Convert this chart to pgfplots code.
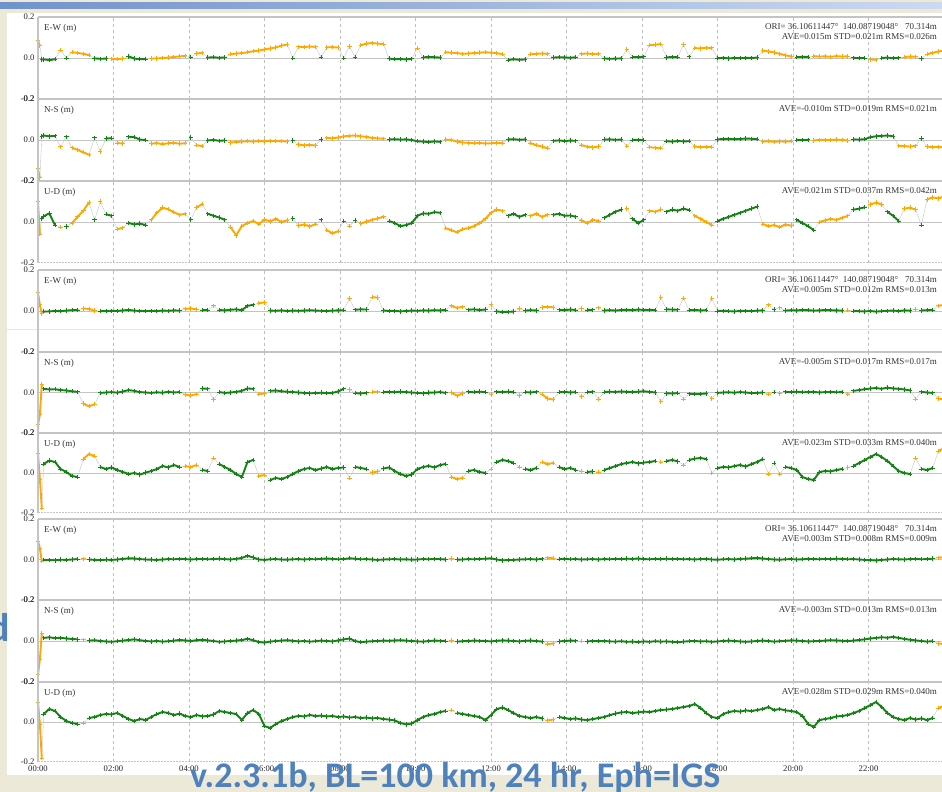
\documentclass[border=0pt]{standalone}
\usepackage{pgfplots}
\pgfplotsset{compat=1.18}
\usepackage{pgfplotstable}
\usepackage{fontspec}
\setmainfont{Liberation Serif}
\newfontfamily\slidefont{Carlito}
\definecolor{gpsgreen}{RGB}{20,130,20}
\definecolor{gpsorange}{RGB}{255,168,0}
\definecolor{slidebeige}{RGB}{236,233,216}
\definecolor{slideblue}{RGB}{79,129,189}
\definecolor{framegray}{RGB}{196,196,196}
\definecolor{gridgray}{RGB}{190,190,190}
\definecolor{bardark}{RGB}{112,146,204}
\definecolor{barlight}{RGB}{204,218,240}
\definecolor{faint}{RGB}{232,232,222}
\newcommand\lblfont{\fontsize{9}{10}\selectfont}
% time in hours; a..i in mm: a,b,c = E-W,N-S,U-D (1st run), d,e,f (2nd), g,h,i (3rd)
\pgfplotstableread{
t a b c d e f g h i
0 85 -140 100 90 -160 100 90 -165 100
0.05 60 -185 -60 30 -110 -30 55 -90 -10
0.1 -8 18 15 -12 40 -175 -8 38 -180
0.15 -7 22 28 -3 18 45 -3 15 40
0.3 -10 18 42 -2 15 62 -2 18 65
0.45 -6 20 -15 0 16 55 -4 14 55
0.6 38 -33 -25 -1 12 20 -1 16 25
0.75 0 16 -22 2 10 5 -2 12 5
0.9 28 -38 -5 4 6 -15 0 10 -5
1.05 25 -48 25 5 3 -20 2 8 -10
1.2 20 -60 55 12 -55 70 3 6 -5
1.35 14 -72 95 10 -68 95 0 2 20
1.5 -2 10 10 2 -58 85 -2 4 25
1.65 -4 -56 100 0 -2 30 -3 0 35
1.8 -3 7 38 -1 0 20 -1 -2 40
1.95 -4 9 30 1 2 28 -2 -4 38
2.1 -6 -15 -35 0 -1 15 0 -1 45
2.25 -3 -17 -28 3 5 5 3 2 30
2.4 8 16 -5 5 12 -5 6 5 15
2.55 -3 14 -12 2 8 0 5 8 5
2.7 -6 2 -8 0 2 -8 2 4 15
2.85 -5 0 -15 -1 0 2 0 0 10
3.0 -3 -18 10 1 -2 10 -1 -2 25
3.15 -2 -15 45 0 1 20 -2 0 40
3.3 0 -20 70 2 -1 35 0 -3 50
3.45 2 -16 62 1 3 28 2 -1 45
3.6 5 -14 48 3 0 40 1 2 35
3.75 8 -18 35 2 2 30 3 5 42
3.9 10 -16 40 10 -10 35 2 3 30
4.05 4 12 12 12 -15 30 0 0 25
4.2 22 -25 70 8 -8 40 2 4 35
4.35 25 -30 88 4 20 15 3 6 28
4.5 2 -2 40 5 18 10 1 3 30
4.65 4 0 30 25 -35 75 2 0 38
4.8 1 -4 22 5 2 45 4 -4 55
4.95 3 -2 10 3 -2 30 2 -2 50
5.1 18 -12 -25 6 0 15 0 0 45
5.25 22 -10 -65 8 3 -5 3 2 40
5.4 24 -8 -20 4 8 -20 8 5 10
5.55 28 -6 -5 25 20 55 18 10 45
5.7 33 -8 5 30 18 65 10 4 60
5.85 36 -5 -10 38 -8 -15 0 -5 40
6.0 42 -7 12 42 -5 -10 -2 -8 -20
6.15 46 -4 3 2 8 -35 1 -3 -30
6.3 52 -6 15 1 10 -25 2 0 -10
6.45 60 -5 0 3 6 -30 0 2 5
6.6 66 -8 8 0 4 -20 -1 4 15
6.75 0 -3 18 2 2 -5 1 1 25
6.9 55 -22 -18 1 0 10 2 -2 30
7.05 53 -26 -12 2 -2 20 0 0 28
7.2 56 -24 -22 4 -4 25 2 -3 35
7.35 54 -27 -10 2 -3 15 1 -1 30
7.5 4 3 10 1 -1 22 3 2 32
7.65 52 10 -40 0 -3 30 5 0 28
7.8 53 8 -55 2 -2 20 3 -2 30
7.95 51 12 -45 3 5 25 1 3 25
8.1 0 18 5 4 18 28 2 8 28
8.25 57 20 -20 60 15 -25 6 12 22
8.4 5 22 8 6 -3 30 4 0 25
8.55 62 18 -8 8 -5 25 1 -6 20
8.7 70 15 2 7 -2 20 2 -3 22
8.85 73 10 10 68 2 2 0 -1 18
9.0 70 8 18 65 3 8 -2 0 20
9.15 68 6 25 3 2 22 0 2 15
9.3 -3 3 5 0 3 28 1 1 12
9.45 -6 4 -5 1 1 10 2 3 8
9.6 -5 2 -20 -2 4 -5 0 4 -5
9.75 -7 3 -15 0 2 -15 1 2 -12
9.9 -4 0 -5 2 0 -8 -1 0 -8
10.05 48 -6 30 1 -2 20 0 -2 10
10.2 3 -8 42 3 -4 30 2 -3 25
10.35 5 -10 40 2 -1 35 1 0 35
10.5 4 -7 48 4 0 28 3 2 40
10.65 2 -9 45 3 2 40 2 1 50
10.8 28 2 -30 5 -2 45 0 0 55
10.95 26 0 -40 25 0 -20 5 2 60
11.1 24 -8 -50 15 -16 -30 -1 -3 45
11.25 20 -12 -35 20 -5 -25 0 -1 40
11.4 22 -14 -30 6 3 10 2 0 35
11.55 24 -16 -20 8 1 15 1 2 30
11.7 26 -15 -5 5 4 5 3 1 25
11.85 28 -17 15 7 2 0 4 0 10
12.0 26 -16 45 30 -8 20 6 -2 35
12.15 24 -14 60 -2 3 55 0 1 65
12.3 18 -16 55 -5 2 65 -4 3 72
12.45 -10 3 30 -4 4 60 -3 2 60
12.6 -6 4 40 -3 1 50 -2 0 45
12.75 -9 1 25 12 -15 30 0 -2 30
12.9 -7 3 35 2 2 20 1 1 25
13.05 18 -15 30 4 0 15 2 2 20
13.2 20 -25 40 3 3 25 0 0 25
13.35 22 -32 25 18 -8 55 3 -3 18
13.5 20 -40 35 20 -30 45 8 -15 8
13.65 2 -4 35 18 -35 50 6 -12 12
13.8 4 -2 40 6 1 30 2 -2 25
13.95 3 -5 30 4 3 20 3 0 20
14.1 1 -3 32 7 0 25 1 2 15
14.25 4 -4 25 5 2 15 2 1 18
14.4 20 -25 8 12 -20 10 0 -1 12
14.55 22 -33 -5 5 2 5 1 -2 10
14.7 19 -36 10 6 3 8 2 0 15
14.85 20 -32 5 15 -32 5 0 -1 20
15.0 -2 2 20 3 2 15 2 0 25
15.15 -4 3 35 4 4 25 1 -2 35
15.3 -3 1 50 2 3 35 3 -3 42
15.45 -2 2 60 5 5 45 2 -1 48
15.6 42 -30 65 6 3 50 4 -4 50
15.75 5 0 15 4 2 55 3 -3 45
15.9 4 1 -5 7 4 48 5 -5 48
16.05 6 -1 10 5 6 52 2 -2 52
16.2 62 -35 55 6 3 55 1 -4 50
16.35 65 -38 50 4 0 60 3 -1 55
16.5 68 -40 60 65 -45 55 2 -3 60
16.65 3 -6 50 8 -4 60 4 -2 62
16.8 5 -8 60 7 -5 65 2 -4 65
16.95 4 -5 55 6 -3 58 3 -6 70
17.1 65 -7 65 62 -32 40 1 -3 75
17.25 6 -6 58 4 -6 65 2 -1 80
17.4 48 -32 30 5 -8 72 0 0 90
17.55 47 -35 15 3 -7 75 2 -2 70
17.7 50 -33 0 4 -5 70 3 -1 45
17.85 49 -34 -15 60 -30 0 0 -4 25
18.0 -1 3 5 0 -2 25 -1 -2 20
18.15 1 5 15 1 0 30 1 0 40
18.3 -2 6 25 -1 1 28 2 2 50
18.45 0 4 35 -2 -1 35 0 0 55
18.6 -1 5 45 0 2 40 3 -2 52
18.75 1 7 55 1 0 32 4 -4 58
18.9 0 6 65 -1 -3 45 6 -2 55
19.05 2 4 75 2 -2 55 8 0 60
19.2 36 -8 -10 3 0 70 5 2 65
19.35 32 -6 -20 30 -8 -5 2 0 75
19.5 27 -9 -15 8 2 50 0 -3 60
19.65 20 -7 -25 16 -5 -5 -1 -1 65
19.8 13 -8 -12 2 3 30 1 1 58
19.95 8 -6 -18 4 2 25 2 3 55
20.1 4 0 10 3 4 15 0 2 50
20.25 6 -1 -5 5 1 -20 1 0 30
20.4 5 1 -20 4 2 -30 3 -2 -10
20.55 9 -2 -40 2 3 -35 2 -1 -25
20.7 7 0 0 3 0 5 1 0 10
20.85 8 1 8 5 2 10 3 2 15
21.0 6 -1 15 4 3 8 2 4 20
21.15 9 2 10 3 1 15 4 3 28
21.3 7 0 20 2 2 20 3 1 30
21.45 8 -2 30 5 -8 28 1 0 35
21.6 1 3 60 0 8 35 2 2 45
21.75 -1 2 65 -1 12 50 0 5 55
21.9 0 4 72 -2 16 65 -2 8 70
22.05 -7 14 85 0 20 80 -3 12 85
22.2 -9 18 95 -3 22 95 -5 15 100
22.35 0 20 85 -1 18 80 -2 18 75
22.5 2 22 50 1 24 60 0 16 45
22.65 -1 18 30 2 20 35 2 20 25
22.8 1 -28 5 0 18 10 1 15 15
22.95 5 -30 65 3 15 0 0 10 10
23.1 7 -32 70 2 10 -5 2 6 20
23.25 6 -29 60 8 -32 75 3 3 12
23.4 -2 8 -15 3 3 20 1 0 18
23.55 18 -32 110 4 0 15 2 -3 10
23.7 25 -35 120 5 -2 25 4 -1 20
23.85 32 -33 115 25 -30 110 8 -12 70
24.0 37 -36 125 30 -35 125 12 -15 80
}\data
\pgfplotsset{
  panel/.style={scale only axis, width=906pt, height=#1, anchor=north west,
    xmin=0, xmax=24, ymin=-200, ymax=200,
    xtick={0,2,...,22}, xticklabels={},
    ytick={-200,0,200}, yticklabels={-0.2,0.0,0.2},
    major tick length=0pt, axis line style={draw=none},
    xmajorgrids, grid style={gridgray, line width=0.6pt, dash pattern=on 3pt off 3pt},
    tick label style={font=\fontsize{8.6}{9}\selectfont, text=black!85},
    clip mode=individual},
  panel/.default=82pt,
  zline/.style={color=framegray, line width=0.8pt, forget plot},
  gline/.style={color=gray!45, line width=0.4pt, forget plot},
  gseg/.style={color=gpsgreen, line width=1.9pt, line join=round, mark=+, mark size=2.2pt, mark options={line width=0.9pt, solid}},
  oseg/.style={color=gpsorange, line width=1.9pt, line join=round, mark=+, mark size=2.2pt, mark options={line width=0.9pt, solid}},
}
% #1 column, #2 orange time spans, #3 green time spans
\newcommand\panelplots[3]{%
  \addplot[zline] coordinates {(0,0) (24,0)};
  \addplot[gline] table[x=t,y=#1]{\data};
  \pgfplotsinvokeforeach{#3}{\addplot[gseg, restrict x to domain=##1] table[x=t,y=#1]{\data};}
  \pgfplotsinvokeforeach{#2}{\addplot[oseg, restrict x to domain=##1] table[x=t,y=#1]{\data};}
  \draw[framegray, line width=1.5pt] (rel axis cs:0,1) -- (rel axis cs:1,1);
  \draw[framegray, line width=1pt] (rel axis cs:0,0) -- (rel axis cs:0,1);
}
\newcommand\framebot{\draw[framegray, line width=1pt, dash pattern=on 1.5pt off 1.5pt] (rel axis cs:0,0) -- (rel axis cs:1,0);}
\newcommand\plabel[1]{\node[anchor=west, font=\lblfont, text=black!80, inner sep=0pt] at ([shift={(6pt,-11pt)}]rel axis cs:0,1) {#1};}
\newcommand\statA[1]{\node[anchor=east, font=\lblfont, text=black!80, inner sep=0pt] at ([shift={(-7pt,-10pt)}]rel axis cs:1,1) {#1};}
\newcommand\statB[1]{\node[anchor=east, font=\lblfont, text=black!80, inner sep=0pt] at ([shift={(-7pt,-20pt)}]rel axis cs:1,1) {#1};}
\newcommand\ori{ORI= 36.10611447°\ \ 140.08719048°\ \ \ 70.314m}
\begin{document}
\begin{tikzpicture}
\useasboundingbox (0pt,0pt) rectangle (942pt,792pt);
\clip (0pt,0pt) rectangle (942pt,792pt);
\fill[slidebeige] (0pt,0pt) rectangle (942pt,792pt);
\shade[left color=bardark, right color=barlight] (0pt,783pt) rectangle (942pt,789pt);
\fill[white] (7pt,17pt) rectangle (950pt,779pt);
\draw[faint, line width=1pt] (7pt,462pt) -- (942pt,462pt);
% ---- run 1
\begin{axis}[panel, at={(38pt,775pt)}]
\panelplots{a}{-0.1:0.06,0.55:0.65,0.85:1.4,1.9:2.3,2.95:3.95,4.15:4.4,5.05:6.65,6.85:7.4,7.6:8.0,8.2:8.3,8.5:9.2,10.0:10.1,10.75:12.35,13.0:13.55,14.35:14.9,15.55:15.65,16.15:16.55,17.05:17.15,17.35:17.9,19.15:20.0,20.5:21.5,22.0:22.25,22.9:23.3,23.5:24.1}{0.07:0.5,0.7:0.8,1.45:1.85,2.35:2.9,4.0:4.1,4.45:5.0,6.7:6.8,7.45:7.55,8.05:8.15,8.35:8.45,9.25:9.95,10.15:10.7,12.4:12.95,13.6:14.3,14.95:15.5,15.7:16.1,16.6:17.0,17.2:17.3,17.95:19.1,20.05:20.45,21.55:21.95,22.3:22.85,23.35:23.45}
\plabel{E-W (m)}\statA{\ori}\statB{AVE=0.015m STD=0.021m RMS=0.026m}
\end{axis}
\begin{axis}[panel, at={(38pt,693pt)}]
\panelplots{b}{-0.1:0.06,0.55:0.65,0.85:1.4,1.6:1.7,2.05:2.3,2.95:3.95,4.15:4.4,5.05:6.65,6.85:7.4,7.6:9.2,10.75:12.35,13.0:13.55,14.35:14.9,15.55:15.65,16.15:16.55,17.35:17.9,19.15:20.0,20.5:21.5,22.75:23.3,23.5:24.1}{0.07:0.5,0.7:0.8,1.45:1.55,1.75:2.0,2.35:2.9,4.0:4.1,4.45:5.0,6.7:6.8,7.45:7.55,9.25:10.7,12.4:12.95,13.6:14.3,14.95:15.5,15.7:16.1,16.6:17.3,17.95:19.1,20.05:20.45,21.55:22.7,23.35:23.45}
\plabel{N-S (m)}\statA{AVE=-0.010m STD=0.019m RMS=0.021m}
\end{axis}
\begin{axis}[panel, at={(38pt,611pt)}]
\panelplots{c}{-0.1:0.06,0.55:0.65,0.85:1.4,1.6:1.7,2.05:2.3,2.95:3.95,4.15:4.4,5.05:6.65,6.85:7.4,7.6:8.0,8.2:8.3,8.5:9.2,10.75:12.35,13.0:13.55,14.35:14.9,15.55:15.65,16.15:16.55,17.35:17.9,19.15:20.0,20.65:21.5,22.0:22.4,22.9:23.3,23.5:24.1}{0.07:0.5,0.7:0.8,1.45:1.55,1.75:2.0,2.35:2.9,4.0:4.1,4.45:5.0,6.7:6.8,7.45:7.55,8.05:8.15,8.35:8.45,9.25:10.7,12.4:12.95,13.6:14.3,14.95:15.5,15.7:16.1,16.6:17.3,17.95:19.1,20.05:20.6,21.55:21.95,22.45:22.85,23.35:23.45}
\plabel{U-D (m)}\statA{AVE=0.021m STD=0.037m RMS=0.042m}\framebot
\end{axis}
% ---- run 2
\begin{axis}[panel, at={(38pt,522pt)}]
\panelplots{d}{-0.1:0.12,1.15:1.55,3.85:4.25,4.6:4.7,5.8:6.05,8.2:8.3,8.8:9.05,10.9:11.3,11.95:12.05,12.7:12.8,13.3:13.7,14.35:14.45,14.8:14.9,16.45:16.55,17.05:17.15,17.8:17.9,19.3:19.4,19.6:19.7,21.4:21.5,23.2:23.3,23.8:24.1}{0.13:1.1,1.6:3.8,4.3:4.55,4.75:5.75,6.1:8.15,8.35:8.75,9.1:10.85,11.35:11.9,12.1:12.65,12.85:13.25,13.75:14.3,14.5:14.75,14.95:16.4,16.6:17.0,17.2:17.75,17.95:19.25,19.45:19.55,19.75:21.35,21.55:23.15,23.35:23.75}
\plabel{E-W (m)}\statA{\ori}\statB{AVE=0.005m STD=0.012m RMS=0.013m}
\end{axis}
\begin{axis}[panel=81pt, at={(38pt,440pt)}]
\panelplots{e}{-0.1:0.12,1.15:1.55,3.85:4.25,4.6:4.7,5.8:6.05,8.2:8.3,8.8:9.05,10.9:11.3,11.95:12.05,12.7:12.8,13.3:13.7,14.35:14.45,14.8:14.9,16.45:16.55,17.05:17.15,17.8:17.9,19.3:19.4,19.6:19.7,21.4:21.5,23.2:23.3,23.8:24.1}{0.13:1.1,1.6:3.8,4.3:4.55,4.75:5.75,6.1:8.15,8.35:8.75,9.1:10.85,11.35:11.9,12.1:12.65,12.85:13.25,13.75:14.3,14.5:14.75,14.95:16.4,16.6:17.0,17.2:17.75,17.95:19.25,19.45:19.55,19.75:21.35,21.55:23.15,23.35:23.75}
\plabel{N-S (m)}\statA{AVE=-0.005m STD=0.017m RMS=0.017m}
\end{axis}
\begin{axis}[panel=80pt, at={(38pt,359pt)}]
\panelplots{f}{-0.1:0.12,1.15:1.55,3.85:4.25,4.6:4.7,5.8:6.05,8.2:8.3,8.8:9.05,10.9:11.3,11.95:12.05,12.7:12.8,13.3:13.7,14.35:14.45,14.8:14.9,16.45:16.55,17.05:17.15,17.8:17.9,19.3:19.4,19.6:19.7,21.4:21.5,23.2:23.3,23.8:24.1}{0.13:1.1,1.6:3.8,4.3:4.55,4.75:5.75,6.1:8.15,8.35:8.75,9.1:10.85,11.35:11.9,12.1:12.65,12.85:13.25,13.75:14.3,14.5:14.75,14.95:16.4,16.6:17.0,17.2:17.75,17.95:19.25,19.45:19.55,19.75:21.35,21.55:23.15,23.35:23.75}
\plabel{U-D (m)}\statA{AVE=0.023m STD=0.033m RMS=0.040m}\framebot
\end{axis}
% ---- run 3
\begin{axis}[panel=81pt, at={(38pt,273pt)}]
\panelplots{g}{-0.1:0.12,1.15:1.25,10.9:11.0,13.45:13.7,23.8:24.1}{0.13:1.1,1.3:10.85,11.05:13.4,13.75:23.75}
\plabel{E-W (m)}\statA{\ori}\statB{AVE=0.003m STD=0.008m RMS=0.009m}
\end{axis}
\begin{axis}[panel, at={(38pt,192pt)}]
\panelplots{h}{-0.1:0.12,1.15:1.25,10.9:11.0,13.45:13.7,14.35:14.45,23.8:24.1}{0.13:1.1,1.3:10.85,11.05:13.4,13.75:14.3,14.5:23.75}
\plabel{N-S (m)}\statA{AVE=-0.003m STD=0.013m RMS=0.013m}
\end{axis}
\begin{axis}[panel=80pt, at={(38pt,110pt)},
  xticklabels={00:00,02:00,04:00,06:00,08:00,10:00,12:00,14:00,16:00,18:00,20:00,22:00}]
\panelplots{i}{-0.1:0.12,1.15:1.25,10.9:11.0,13.45:13.7,23.8:24.1}{0.13:1.1,1.3:10.85,11.05:13.4,13.75:23.75}
\plabel{U-D (m)}\statA{AVE=0.028m STD=0.029m RMS=0.040m}\framebot
\end{axis}
% ---- slide overlay text
\node[anchor=base west, inner sep=0pt, font=\slidefont\bfseries\fontsize{36}{40}\selectfont, text=slideblue] at (190pt,4pt) {v.2.3.1b, BL=100 km, 24 hr, Eph=IGS};
\node[anchor=base east, inner sep=0pt, font=\slidefont\bfseries\fontsize{40}{44}\selectfont, text=slideblue] at (10pt,150pt) {d};
\end{tikzpicture}
\end{document}
